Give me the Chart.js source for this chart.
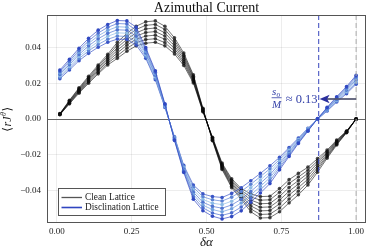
<!DOCTYPE html>
<html>
<head>
<meta charset="utf-8">
<script src="https://cdn.jsdelivr.net/npm/chart.js@4.4.1/dist/chart.umd.min.js"></script>
<style>
  html, body { margin: 0; padding: 0; background: #fff; }
  canvas { display: block; }
</style>
</head>
<body>
<canvas id="azimuthalChart" width="374" height="249"></canvas>
<script>
// delta alpha sample points
const deltaAlpha = [0.010, 0.042, 0.074, 0.106, 0.138, 0.170, 0.202, 0.234, 0.265, 0.297, 0.329, 0.361, 0.393, 0.424, 0.456, 0.488,
  0.520, 0.552, 0.584, 0.616, 0.648, 0.680, 0.712, 0.744, 0.776, 0.807, 0.839, 0.871, 0.903, 0.935, 0.968, 1.000];

// clean lattice curves
const clean1 = [.0030,.0105,.0175,.0240,.0303,.0363,.0430,.0480,.0520,.0545,.0550,.0520,.0455,.0370,.0248,.0060,-.0122,-.0283,-.0385,-.0450,-.0520,-.0555,-.0553,-.0520,-.0470,-.0425,-.0370,-.0298,-.0220,-.0146,-.0077,0];
const clean2 = [.0029,.0102,.0170,.0233,.0295,.0353,.0415,.0464,.0502,.0525,.0530,.0502,.0440,.0358,.0240,.0057,-.0119,-.0277,-.0377,-.0440,-.0504,-.0535,-.0533,-.0499,-.0449,-.0405,-.0354,-.0285,-.0212,-.0141,-.0075,0];
const clean3 = [.0028,.0098,.0165,.0227,.0286,.0343,.0400,.0447,.0483,.0505,.0510,.0483,.0425,.0347,.0233,.0053,-.0115,-.0271,-.0368,-.0430,-.0487,-.0515,-.0513,-.0476,-.0426,-.0385,-.0337,-.0273,-.0205,-.0137,-.0074,0];
const clean4 = [.0027,.0095,.0160,.0220,.0278,.0333,.0385,.0430,.0465,.0485,.0490,.0465,.0410,.0335,.0225,.0050,-.0112,-.0265,-.0360,-.0420,-.0470,-.0495,-.0493,-.0455,-.0405,-.0365,-.0320,-.0260,-.0197,-.0132,-.0072,0];
const clean5 = [.0026,.0092,.0155,.0213,.0270,.0323,.0370,.0414,.0447,.0465,.0470,.0447,.0395,.0323,.0217,.0047,-.0109,-.0259,-.0352,-.0410,-.0454,-.0475,-.0473,-.0434,-.0384,-.0345,-.0304,-.0247,-.0189,-.0127,-.0070,0];
const clean6 = [.0025,.0088,.0150,.0207,.0261,.0313,.0355,.0397,.0428,.0445,.0450,.0428,.0380,.0312,.0210,.0043,-.0105,-.0253,-.0343,-.0400,-.0437,-.0455,-.0453,-.0411,-.0361,-.0325,-.0287,-.0235,-.0182,-.0123,-.0069,0];
const clean7 = [.0024,.0085,.0145,.0200,.0253,.0303,.0340,.0380,.0410,.0425,.0430,.0410,.0365,.0300,.0202,.0040,-.0102,-.0247,-.0335,-.0390,-.0420,-.0435,-.0433,-.0390,-.0340,-.0305,-.0270,-.0222,-.0174,-.0118,-.0067,0];

// disclination lattice curves
const discl1 = [.0274,.0335,.0397,.0452,.0498,.0530,.0552,.0550,.0515,.0400,.0270,.0085,-.0120,-.0300,-.0450,-.0514,-.0545,-.0560,-.0547,-.0515,-.0466,-.0415,-.0362,-.0285,-.0210,-.0137,-.0068,.0002,.0065,.0125,.0182,.0245];
const discl2 = [.0266,.0325,.0385,.0438,.0482,.0514,.0535,.0533,.0499,.0390,.0262,.0082,-.0117,-.0293,-.0437,-.0498,-.0527,-.0540,-.0526,-.0494,-.0446,-.0397,-.0346,-.0273,-.0202,-.0132,-.0065,.0001,.0062,.0120,.0175,.0237];
const discl3 = [.0258,.0315,.0374,.0424,.0466,.0497,.0517,.0515,.0482,.0380,.0253,.0078,-.0113,-.0287,-.0423,-.0483,-.0508,-.0520,-.0503,-.0471,-.0426,-.0378,-.0329,-.0262,-.0193,-.0127,-.0063,.0001,.0058,.0115,.0169,.0228];
const discl4 = [.0250,.0305,.0362,.0410,.0450,.0480,.0500,.0498,.0465,.0370,.0245,.0075,-.0110,-.0280,-.0410,-.0467,-.0490,-.0500,-.0482,-.0450,-.0406,-.0360,-.0312,-.0250,-.0185,-.0122,-.0060,0,.0055,.0110,.0162,.0220];
const discl5 = [.0242,.0295,.0350,.0396,.0434,.0464,.0483,.0481,.0449,.0360,.0237,.0072,-.0107,-.0273,-.0397,-.0451,-.0472,-.0480,-.0461,-.0429,-.0386,-.0342,-.0296,-.0238,-.0177,-.0117,-.0057,0,.0052,.0105,.0155,.0212];
const discl6 = [.0234,.0285,.0339,.0382,.0418,.0447,.0465,.0463,.0432,.0350,.0228,.0068,-.0103,-.0267,-.0383,-.0436,-.0453,-.0460,-.0438,-.0406,-.0366,-.0323,-.0279,-.0227,-.0168,-.0112,-.0055,-.0001,.0048,.0100,.0149,.0203];
const discl7 = [.0226,.0275,.0327,.0368,.0402,.0430,.0448,.0446,.0415,.0340,.0220,.0065,-.0100,-.0260,-.0370,-.0420,-.0435,-.0440,-.0417,-.0385,-.0346,-.0305,-.0262,-.0215,-.0160,-.0107,-.0052,-.0002,.0045,.0095,.0142,.0195];

const xTickValues = [0, 0.25, 0.5, 0.75, 1];
const yTickValues = [-0.04, -0.02, 0, 0.02, 0.04];

const cleanSeries = [clean1, clean2, clean3, clean4, clean5, clean6, clean7];
const disclSeries = [discl1, discl2, discl3, discl4, discl5, discl6, discl7];
const blueShades = ["#3149c2", "#4a6ccf", "#6f9fdd", "#4f74d0", "#8cbbe6", "#5a82d4", "#3a55c6"];

const SERIF = "'Liberation Serif', 'DejaVu Serif', serif";

function toPoints(ys) {
  return deltaAlpha.map((x, i) => ({ x: x, y: ys[i] }));
}

const datasets = [];
cleanSeries.forEach((ys) => {
  datasets.push({
    label: "Clean Lattice",
    data: toPoints(ys),
    borderColor: "rgba(0,0,0,0.55)",
    pointBackgroundColor: "rgba(15,15,15,0.75)",
    pointBorderWidth: 0,
    pointRadius: 1.8,
    borderWidth: 1,
    order: 2,
  });
});
disclSeries.forEach((ys, i) => {
  datasets.push({
    label: "Disclination Lattice",
    data: toPoints(ys),
    borderColor: blueShades[i] + "b0",
    pointBackgroundColor: blueShades[i],
    pointBorderWidth: 0,
    pointRadius: 1.8,
    borderWidth: 1,
    order: 1,
  });
});

function fmt(v) {
  if (Math.abs(v) < 1e-9) return "0.00";
  return v.toFixed(2).replace("-", "\u2212");
}

// titles, legend, annotation, frame
const decor = {
  id: "decor",
  afterDraw(chart) {
    const ctx = chart.ctx;
    const a = chart.chartArea;
    const xs = chart.scales.x;
    const ys = chart.scales.y;
    ctx.save();

    // dashed markers
    ctx.setLineDash([5, 3]);
    ctx.lineWidth = 1;
    ctx.strokeStyle = "#3646bd";
    let px = xs.getPixelForValue(0.875);
    ctx.beginPath(); ctx.moveTo(px, a.top); ctx.lineTo(px, a.bottom); ctx.stroke();
    ctx.strokeStyle = "#aaaaaa";
    px = xs.getPixelForValue(1.0);
    ctx.beginPath(); ctx.moveTo(px, a.top); ctx.lineTo(px, a.bottom); ctx.stroke();
    ctx.setLineDash([]);

    // frame
    ctx.strokeStyle = "#555";
    ctx.lineWidth = 1;
    ctx.strokeRect(a.left + 0.5, a.top + 0.5, a.right - a.left - 1, a.bottom - a.top - 1);

    // arrow annotation
    const tipX = xs.getPixelForValue(0.878);
    const tipY = ys.getPixelForValue(0.0112);
    const endX = xs.getPixelForValue(1.0);
    ctx.strokeStyle = "rgba(80,84,110,0.85)";
    ctx.lineWidth = 2;
    ctx.beginPath(); ctx.moveTo(tipX + 6, tipY); ctx.lineTo(endX, tipY); ctx.stroke();
    ctx.fillStyle = "#2b2f9c";
    ctx.beginPath();
    ctx.moveTo(tipX, tipY);
    ctx.lineTo(tipX + 10, tipY - 4.2);
    ctx.lineTo(tipX + 7.5, tipY);
    ctx.lineTo(tipX + 10, tipY + 4.2);
    ctx.closePath();
    ctx.fill();

    ctx.fillStyle = "#3340a8";
    ctx.strokeStyle = "#3340a8";
    ctx.textBaseline = "alphabetic";
    ctx.font = "12.5px " + SERIF;
    ctx.textAlign = "right";
    ctx.fillText("\u2248 0.13", tipX - 2, tipY + 4);
    const fx = tipX - 43;
    ctx.lineWidth = 0.8;
    ctx.beginPath(); ctx.moveTo(fx - 5, tipY - 1.3); ctx.lineTo(fx + 5, tipY - 1.3); ctx.stroke();
    ctx.font = "italic 11px " + SERIF;
    ctx.textAlign = "left";
    ctx.fillText("s", fx - 4.5, tipY - 4);
    ctx.font = "italic 7.5px " + SERIF;
    ctx.fillText("o", fx, tipY - 2.5);
    ctx.font = "italic 11px " + SERIF;
    ctx.textAlign = "center";
    ctx.fillText("M", fx, tipY + 8.5);

    // legend
    const lx = a.left + 11, ly = a.top + 173, lw = 108, lh = 28;
    ctx.fillStyle = "#fff";
    ctx.fillRect(lx, ly, lw, lh);
    ctx.strokeStyle = "#555";
    ctx.lineWidth = 1;
    ctx.strokeRect(lx + 0.5, ly + 0.5, lw - 1, lh - 1);
    ctx.lineWidth = 1.3;
    ctx.strokeStyle = "#555";
    ctx.beginPath(); ctx.moveTo(lx + 3.5, ly + 9.5); ctx.lineTo(lx + 24, ly + 9.5); ctx.stroke();
    ctx.strokeStyle = "#2f45c0";
    ctx.lineWidth = 1.6;
    ctx.beginPath(); ctx.moveTo(lx + 3.5, ly + 19.5); ctx.lineTo(lx + 24, ly + 19.5); ctx.stroke();
    ctx.fillStyle = "#222";
    ctx.font = "9.3px " + SERIF;
    ctx.textAlign = "left";
    ctx.textBaseline = "middle";
    ctx.fillText("Clean Lattice", lx + 27, ly + 9.5);
    ctx.fillText("Disclination Lattice", lx + 27, ly + 19.5);

    // title
    ctx.fillStyle = "#111";
    ctx.textBaseline = "alphabetic";
    ctx.textAlign = "center";
    ctx.font = "14px " + SERIF;
    ctx.fillText("Azimuthal Current", (a.left + a.right) / 2, 12);

    // x axis title
    ctx.font = "italic 13px " + SERIF;
    ctx.fillText("\u03b4\u03b1", (a.left + a.right) / 2, 246);

    // y axis title
    ctx.translate(11, (a.top + a.bottom) / 2);
    ctx.rotate(-Math.PI / 2);
    const parts = [
      ["\u27e8", "12px " + SERIF, 0],
      ["rJ", "italic 12px " + SERIF, 0],
      ["\u03b8", "italic 8px " + SERIF, -5],
      ["\u27e9", "12px " + SERIF, 0],
    ];
    let total = 0;
    parts.forEach((p) => { ctx.font = p[1]; total += ctx.measureText(p[0]).width + 0.5; });
    let cx = -total / 2;
    ctx.textAlign = "left";
    parts.forEach((p) => {
      ctx.font = p[1];
      ctx.fillText(p[0], cx, p[2]);
      cx += ctx.measureText(p[0]).width + 0.5;
    });
    ctx.restore();
  },
};

new Chart(document.getElementById("azimuthalChart").getContext("2d"), {
  type: "line",
  data: { datasets: datasets },
  options: {
    responsive: false,
    animation: false,
    devicePixelRatio: 1,
    layout: { padding: { top: 15, right: 8, left: 0, bottom: 0 } },
    plugins: {
      legend: { display: false },
      tooltip: { enabled: false },
      title: { display: false },
    },
    scales: {
      x: {
        type: "linear",
        min: -0.033,
        max: 1.033,
        afterBuildTicks: (s) => { s.ticks = xTickValues.map((v) => ({ value: v })); },
        afterFit: (s) => { s.height = 26; },
        grid: { color: "rgba(0,0,0,0.07)", drawTicks: false },
        border: { display: false },
        ticks: {
          padding: 3,
          color: "#222",
          font: { family: SERIF, size: 9 },
          maxRotation: 0,
          callback: (v) => fmt(v),
        },
      },
      y: {
        type: "linear",
        min: -0.0583,
        max: 0.0583,
        afterBuildTicks: (s) => { s.ticks = yTickValues.map((v) => ({ value: v })); },
        afterFit: (s) => { s.width = 47; },
        grid: {
          color: (c) => (c.tick && Math.abs(c.tick.value) < 1e-9 ? "#666" : "rgba(0,0,0,0.07)"),
          drawTicks: false,
        },
        border: { display: false },
        ticks: {
          padding: 6,
          color: "#222",
          font: { family: SERIF, size: 9 },
          callback: (v) => fmt(v),
        },
      },
    },
  },
  plugins: [decor],
});
</script>
</body>
</html>
